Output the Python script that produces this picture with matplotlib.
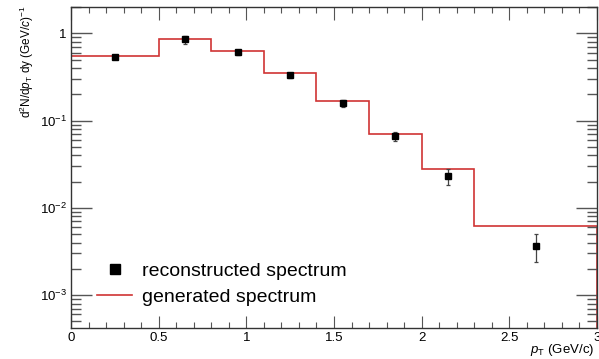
import matplotlib
matplotlib.use("Agg")
import matplotlib.pyplot as plt
from matplotlib.ticker import MultipleLocator, LogLocator, FixedLocator, NullFormatter
from matplotlib.lines import Line2D
import numpy as np

plt.rcParams['font.family'] = ['Liberation Sans', 'DejaVu Sans']
plt.rcParams['mathtext.fontset'] = 'custom'
plt.rcParams['mathtext.rm'] = 'Liberation Sans'
plt.rcParams['mathtext.it'] = 'Liberation Sans:italic'

bin_edges = [0.0, 0.5, 0.8, 1.1, 1.4, 1.7, 2.0, 2.3, 3.0]
generated = [0.545, 0.87, 0.63, 0.35, 0.166, 0.071, 0.028, 0.0062]

pt_points = [0.25, 0.65, 0.95, 1.25, 1.55, 1.85, 2.15, 2.65]
reconstructed = [0.54, 0.85, 0.61, 0.33, 0.157, 0.066, 0.023, 0.0037]
rec_err = [0.02, 0.09, 0.04, 0.02, 0.015, 0.007, 0.0045, 0.0013]

W, H = 599, 359
fig = plt.figure(figsize=(W / 100, H / 100), dpi=100)
left, right, top, bottom = 71, 597, 7, 328
ax = fig.add_axes([left / W, 1 - bottom / H, (right - left) / W, (bottom - top) / H])

red = '#d03434'
ax.stairs(generated, bin_edges, color=red, lw=1.2)
ax.errorbar(pt_points, reconstructed, yerr=rec_err, fmt='s', color='black',
            ms=5, elinewidth=0.9, capsize=1.5, capthick=0.9, ecolor='#444444')

ax.set_yscale('log')
ax.set_xlim(0, 3)
ax.set_ylim(4.2e-4, 2.0)

ax.set_xticks([0, 0.5, 1, 1.5, 2, 2.5, 3])
ax.set_xticklabels(['0', '0.5', '1', '1.5', '2', '2.5', '3'])
ax.xaxis.set_minor_locator(MultipleLocator(0.1))
ax.yaxis.set_major_locator(FixedLocator([1e-3, 1e-2, 1e-1, 1]))
ax.set_yticklabels(['$10^{-3}$', '$10^{-2}$', '$10^{-1}$', '1'])
ax.yaxis.set_minor_locator(LogLocator(base=10, subs=np.arange(2, 10), numticks=20))
ax.yaxis.set_minor_formatter(NullFormatter())

ax.tick_params(which='both', direction='in', top=True, right=True, labelsize=9.5,
               color='#555555')
ax.tick_params(axis='y', which='major', length=15, width=1, pad=3)
ax.tick_params(axis='y', which='minor', length=7.5, width=1)
ax.tick_params(axis='x', which='major', length=9, width=0.8, pad=3)
ax.tick_params(axis='x', which='minor', length=4.5, width=0.8)
for s in ax.spines.values():
    s.set_linewidth(1.0)
    s.set_color('#333333')

ax.set_ylabel(r'd$^{2}$N/d$\it{p}_{\rm T}$ dy (GeV/$\it{c}$)$^{-1}$', fontsize=8.5)
ax.yaxis.set_label_coords(-0.066, 0.83)
ax.set_xlabel(r'$\it{p}_{\rm T}$ (GeV/c)', fontsize=9.5, ha='right')
ax.xaxis.set_label_coords(0.994, -0.045)

handles = [Line2D([], [], marker='s', ls='none', color='black', ms=7.5),
           Line2D([], [], color=red, lw=1.2)]
labels = ['reconstructed spectrum', 'generated spectrum']
ax.legend(handles, labels, loc='upper left',
          bbox_to_anchor=((97 - left) / (right - left), 1 - (262 - top) / (bottom - top)),
          frameon=False, fontsize=14, handlelength=1.8, handletextpad=0.5,
          labelspacing=0.45, borderpad=0, borderaxespad=0)

fig.savefig('out.png', dpi=100)
